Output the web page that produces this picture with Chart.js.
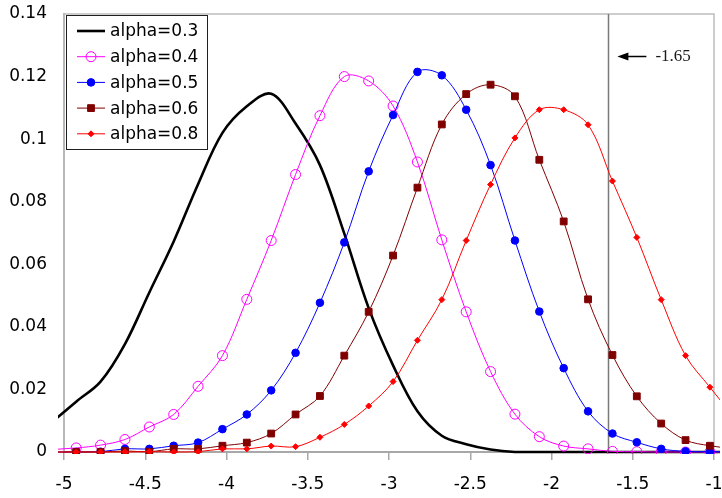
<!DOCTYPE html>
<html lang="en">
  <head>
    <meta charset="utf-8" />
    <title>alpha distributions</title>
    <script src="https://cdn.jsdelivr.net/npm/chart.js@4.4.1/dist/chart.umd.min.js"></script>
    <style>
      * {
        margin: 0;
        padding: 0;
        box-sizing: border-box;
      }
      body {
        background: #ffffff;
      }
      #wrap {
        width: 722px;
        height: 498px;
      }
    </style>
  </head>
  <body>
    <div id="wrap">
      <canvas id="chart" width="722" height="498"></canvas>
    </div>
    <script>
      // x grid (bin centres), one extra point on each side that gets clipped
      const xValues = [
        -5.075, -4.925, -4.775, -4.625, -4.475, -4.325, -4.175, -4.025, -3.875,
        -3.725, -3.575, -3.425, -3.275, -3.125, -2.975, -2.825, -2.675, -2.525,
        -2.375, -2.225, -2.075, -1.925, -1.775, -1.625, -1.475, -1.325, -1.175,
        -1.025, -0.875,
      ];

      const seriesNames = ["alpha=0.3", "alpha=0.4", "alpha=0.5", "alpha=0.6", "alpha=0.8"];

      const alpha03 = [
        0.0095, 0.0161, 0.0225, 0.0345, 0.051, 0.0673, 0.0856, 0.102, 0.1105,
        0.1145, 0.105, 0.0917, 0.0698, 0.046, 0.0277, 0.013, 0.0052, 0.0025,
        0.0008, 0, 0, 0, 0, 0, 0, 0, 0, 0, 0,
      ];
      const alpha04 = [
        0.0008, 0.0013, 0.0022, 0.004, 0.008, 0.012, 0.021, 0.0308, 0.0488,
        0.0676, 0.0887, 0.1075, 0.12, 0.1186, 0.1106, 0.0927, 0.0678, 0.0448,
        0.0257, 0.0121, 0.0049, 0.0019, 0.001, 0.0002, 0.0001, 0, 0, 0, 0,
      ];
      const alpha05 = [
        0, 0, 0.0001, 0.001, 0.001, 0.002, 0.003, 0.0073, 0.012, 0.0197, 0.0317,
        0.0477, 0.067, 0.0897, 0.1077, 0.1215, 0.1204, 0.1094, 0.0917, 0.0676,
        0.0449, 0.0268, 0.013, 0.0059, 0.0031, 0.001, 0.0002, 0.0001, 0,
      ];
      const alpha06 = [
        0, 0, 0, 0.0003, 0.0001, 0.001, 0.001, 0.002, 0.003, 0.0059, 0.012,
        0.0179, 0.0308, 0.0448, 0.0628, 0.0845, 0.1047, 0.1144, 0.1174, 0.1137,
        0.0934, 0.0737, 0.0488, 0.031, 0.0178, 0.0091, 0.0038, 0.002, 0.001,
      ];
      const alpha08 = [
        0, 0, 0, 0, 0.0001, 0, 0.0001, 0.001, 0.001, 0.0019, 0.0017, 0.0047,
        0.0088, 0.0147, 0.0225, 0.0357, 0.0487, 0.0676, 0.0855, 0.1004, 0.1094,
        0.1094, 0.1046, 0.0866, 0.0686, 0.0487, 0.0308, 0.0207, 0.011,
      ];

      const xTicks = [-5, -4.5, -4, -3.5, -3, -2.5, -2, -1.5, -1];
      const yTicks = [0, 0.02, 0.04, 0.06, 0.08, 0.1, 0.12, 0.14];

      // critical value marked on the chart
      const critValue = -1.65;
      const critLabel = "-1.65";
      const critLabelY = 0.1265;

      const toPoints = (ys) => xValues.map((x, i) => ({ x: x, y: ys[i] }));
      const clipBox = { left: 6, right: 6, top: 2, bottom: 2 };

      const styles = [
        { color: "#000000", width: 2.6, point: false },
        { color: "#ff00ff", width: 1, point: "circle", radius: 5, fill: "rgba(0,0,0,0)" },
        { color: "#0000ff", width: 1, point: "circle", radius: 3.8, fill: "#0000ff" },
        { color: "#800000", width: 1, point: "rect", radius: 4.8, fill: "#800000" },
        { color: "#ff0000", width: 1, point: "rectRot", radius: 3, fill: "#ff0000" },
      ];
      const allSeries = [alpha03, alpha04, alpha05, alpha06, alpha08];

      const datasets = allSeries.map((ys, i) => ({
        label: seriesNames[i],
        data: toPoints(ys),
        borderColor: styles[i].color,
        borderWidth: styles[i].width,
        backgroundColor: styles[i].fill || styles[i].color,
        pointStyle: styles[i].point,
        pointRadius: styles[i].point ? styles[i].radius : 0,
        pointBorderWidth: 1,
        pointBorderColor: styles[i].color,
        pointBackgroundColor: styles[i].fill || styles[i].color,
        tension: 0.35,
        clip: clipBox,
        order: 5 - i,
      }));

      // draw a legend marker by hand
      function marker(ctx, st, x, y) {
        if (!st.point) return;
        ctx.save();
        ctx.fillStyle = st.fill;
        ctx.strokeStyle = st.color;
        ctx.lineWidth = 1;
        ctx.beginPath();
        if (st.point === "circle") {
          ctx.arc(x, y, st.radius, 0, Math.PI * 2);
        } else if (st.point === "rect") {
          const s = Math.SQRT1_2 * st.radius;
          ctx.rect(x - s, y - s, 2 * s, 2 * s);
        } else {
          const r = st.radius;
          ctx.moveTo(x, y - r);
          ctx.lineTo(x + r, y);
          ctx.lineTo(x, y + r);
          ctx.lineTo(x - r, y);
          ctx.closePath();
        }
        ctx.fill();
        ctx.stroke();
        ctx.restore();
      }

      const decorations = {
        id: "decorations",
        beforeDatasetsDraw(chart) {
          const { ctx, chartArea, scales } = chart;
          ctx.save();
          // plot area top + right border
          ctx.strokeStyle = "#bdbdbd";
          ctx.lineWidth = 1.5;
          ctx.beginPath();
          ctx.moveTo(chartArea.left, chartArea.top);
          ctx.lineTo(chartArea.right, chartArea.top);
          ctx.lineTo(chartArea.right, chartArea.bottom);
          ctx.stroke();
          // vertical line at the critical value
          const cx = Math.round(scales.x.getPixelForValue(critValue)) + 0.5;
          ctx.strokeStyle = "#7a7a7a";
          ctx.lineWidth = 1.5;
          ctx.beginPath();
          ctx.moveTo(cx, chartArea.top);
          ctx.lineTo(cx, chartArea.bottom);
          ctx.stroke();
          ctx.restore();
        },
        afterDraw(chart) {
          const { ctx, scales } = chart;
          ctx.save();
          // arrow + label
          const cx = scales.x.getPixelForValue(critValue);
          const ay = Math.round(scales.y.getPixelForValue(critLabelY)) + 0.5;
          ctx.fillStyle = "#000000";
          ctx.strokeStyle = "#000000";
          ctx.lineWidth = 1.5;
          ctx.beginPath();
          ctx.moveTo(cx + 18, ay);
          ctx.lineTo(cx + 38, ay);
          ctx.stroke();
          ctx.beginPath();
          ctx.moveTo(cx + 9, ay);
          ctx.lineTo(cx + 20, ay - 4);
          ctx.lineTo(cx + 20, ay + 4);
          ctx.closePath();
          ctx.fill();
          ctx.font = '17px "Liberation Serif", "DejaVu Serif", serif';
          ctx.fillStyle = "#1a1a1a";
          ctx.textBaseline = "middle";
          ctx.fillText(critLabel, cx + 47, ay);

          // legend box
          const lx = 66.5, ly = 15.5, lw = 141, lh = 134;
          ctx.fillStyle = "#ffffff";
          ctx.fillRect(lx, ly, lw, lh);
          ctx.strokeStyle = "#202020";
          ctx.lineWidth = 1;
          ctx.strokeRect(lx, ly, lw, lh);
          ctx.font = '17px "DejaVu Sans", sans-serif';
          ctx.textBaseline = "middle";
          seriesNames.forEach((name, i) => {
            const y = 31 + i * 25.7;
            const st = styles[i];
            ctx.strokeStyle = st.color;
            ctx.lineWidth = st.width;
            ctx.beginPath();
            ctx.moveTo(77, y);
            ctx.lineTo(105, y);
            ctx.stroke();
            marker(ctx, st, 91, y);
            ctx.fillStyle = "#000000";
            ctx.fillText(name, 110, y + 1);
          });
          ctx.restore();
        },
      };

      const tickFont = { family: '"DejaVu Sans", sans-serif', size: 17 };

      new Chart(document.getElementById("chart"), {
        type: "line",
        data: { datasets: datasets },
        plugins: [decorations],
        options: {
          responsive: false,
          animation: false,
          layout: { padding: { left: 0, right: 8, top: 14, bottom: 0 } },
          plugins: {
            legend: { display: false },
            tooltip: { enabled: false },
          },
          scales: {
            x: {
              type: "linear",
              min: -5,
              max: -1,
              afterBuildTicks: (scale) => {
                scale.ticks = xTicks.map((v) => ({ value: v }));
              },
              afterFit: (scale) => {
                scale.height = 46;
                scale.paddingLeft = 0;
                scale.paddingRight = 0;
              },
              ticks: {
                font: tickFont,
                color: "#000000",
                padding: 14,
                maxRotation: 0,
                autoSkip: false,
                callback: (v) => String(+v.toFixed(1)),
              },
              grid: {
                display: true,
                drawOnChartArea: false,
                drawTicks: true,
                tickLength: 8,
                color: "#a8a8a8",
                lineWidth: 1.5,
              },
              border: { display: true, color: "#a8a8a8", width: 2 },
            },
            y: {
              type: "linear",
              min: 0,
              max: 0.14,
              afterBuildTicks: (scale) => {
                scale.ticks = yTicks.map((v) => ({ value: v }));
              },
              afterFit: (scale) => {
                scale.width = 64;
                scale.paddingTop = 0;
                scale.paddingBottom = 0;
              },
              ticks: {
                font: tickFont,
                color: "#000000",
                padding: 17,
                callback: (v) => String(+v.toFixed(2)),
              },
              grid: { display: false, drawTicks: false },
              border: { display: true, color: "#b8b8b8", width: 2 },
            },
          },
        },
      });
    </script>
  </body>
</html>
